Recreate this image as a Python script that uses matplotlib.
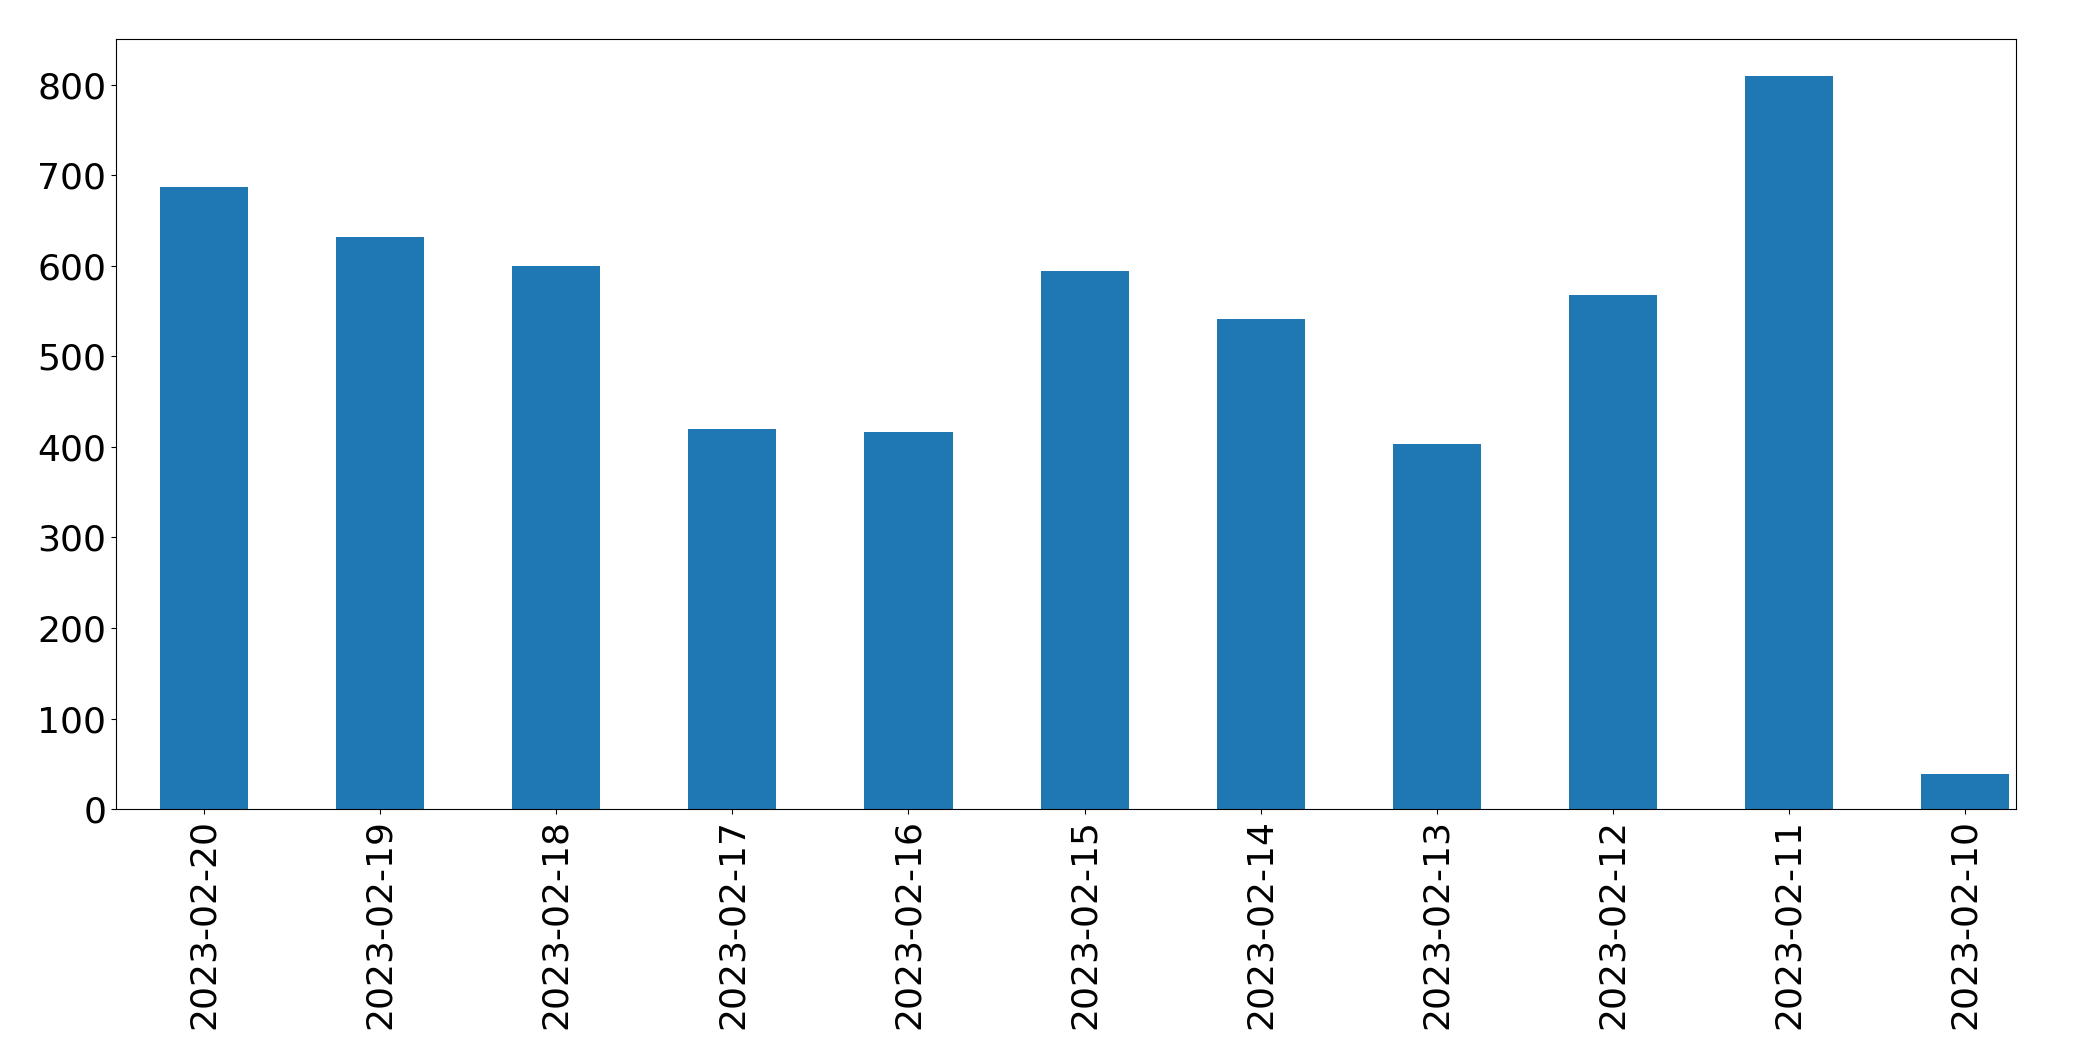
import numpy as np
import matplotlib
matplotlib.use("Agg")
import matplotlib.pyplot as plt

dates = ["2023-02-20", "2023-02-19", "2023-02-18", "2023-02-17", "2023-02-16",
         "2023-02-15", "2023-02-14", "2023-02-13", "2023-02-12", "2023-02-11",
         "2023-02-10"]
counts = [687, 632, 600, 420, 417, 595, 541, 403, 568, 810, 39]

fig = plt.figure(figsize=(20.93, 10.61), dpi=100)
ax = fig.add_axes([0.0555, 0.2375, 0.9077, 0.7255])

x = np.arange(len(dates))
ax.bar(x, counts, width=0.5, color="#1f77b4")
# right edge sits close to the last bar in the original
ax.set_xlim(-0.5, len(dates) - 0.71)
ax.set_ylim(0, max(counts) * 1.05)
ax.set_xticks(x)
ax.set_xticklabels(dates, rotation=90)
ax.tick_params(labelsize=26)

plt.savefig("out.png", dpi=100)
plt.close(fig)
